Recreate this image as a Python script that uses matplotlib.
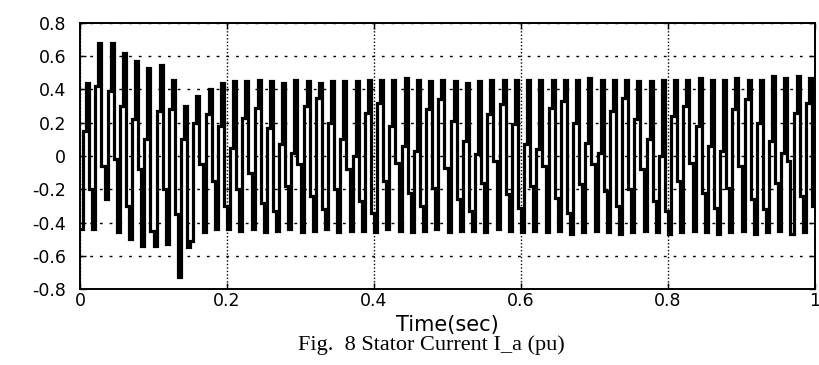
import matplotlib.pyplot as plt
import numpy as np

# stator current I_a (pu), one row of levels per 60 Hz cycle
# each cycle is drawn as 4 held samples: trough, rising level, peak, falling level
cycle_freq = 60
i_lo = [-0.44, -0.44, -0.26, -0.46, -0.50, -0.54, -0.54, -0.53, -0.73, -0.51, -0.46, -0.44, -0.44,
        -0.45, -0.44, -0.46, -0.45, -0.44, -0.46, -0.45, -0.44, -0.46, -0.45, -0.45, -0.46, -0.44,
        -0.45, -0.46, -0.45, -0.44, -0.46, -0.45, -0.45, -0.46, -0.44, -0.45, -0.46, -0.45,
        -0.46, -0.45, -0.47, -0.46, -0.45, -0.46, -0.47, -0.46, -0.45, -0.46, -0.47, -0.46,
        -0.45, -0.46, -0.47, -0.46, -0.45, -0.47, -0.46, -0.45, -0.47, -0.46]
i_up = [0.15, 0.42, 0.39, 0.30, 0.22, 0.10, 0.27, 0.28, 0.10, 0.20, 0.25, 0.18, 0.05,
        0.23, 0.29, 0.17, 0.07, 0.02, 0.30, 0.35, 0.20, 0.10, 0.00, 0.26, 0.32, 0.18,
        0.06, 0.03, 0.28, 0.34, 0.21, 0.09, 0.01, 0.25, 0.31, 0.19, 0.07, 0.04,
        0.29, 0.33, 0.20, 0.08, 0.02, 0.27, 0.35, 0.22, 0.10, 0.00, 0.24, 0.30,
        0.18, 0.06, 0.03, 0.28, 0.34, 0.20, 0.09, 0.02, 0.26, 0.32]
i_hi = [0.44, 0.68, 0.68, 0.62, 0.57, 0.53, 0.55, 0.46, 0.30, 0.36, 0.40, 0.44, 0.45,
        0.45, 0.46, 0.45, 0.44, 0.46, 0.45, 0.44, 0.45, 0.45, 0.45, 0.46, 0.46, 0.46,
        0.47, 0.46, 0.45, 0.46, 0.45, 0.44, 0.45, 0.46, 0.46, 0.46, 0.46, 0.46,
        0.46, 0.46, 0.46, 0.47, 0.46, 0.46, 0.46, 0.45, 0.45, 0.46, 0.46, 0.46,
        0.47, 0.46, 0.46, 0.47, 0.46, 0.46, 0.48, 0.47, 0.48, 0.47]
i_dn = [-0.20, -0.06, -0.02, -0.30, -0.08, -0.45, -0.20, -0.35, -0.55, -0.05, -0.15, -0.30, -0.20,
        -0.10, -0.28, -0.33, -0.18, -0.05, -0.24, -0.32, -0.20, -0.08, -0.27, -0.34, -0.15, -0.04,
        -0.22, -0.30, -0.19, -0.07, -0.26, -0.33, -0.16, -0.03, -0.23, -0.31, -0.18, -0.06,
        -0.25, -0.34, -0.17, -0.05, -0.21, -0.30, -0.20, -0.08, -0.27, -0.33, -0.15, -0.04,
        -0.22, -0.31, -0.19, -0.06, -0.26, -0.32, -0.16, -0.03, -0.24, -0.30]

x_ticks = [0, 0.2, 0.4, 0.6, 0.8, 1]
x_labels = ['0', '0.2', '0.4', '0.6', '0.8', '1']
y_ticks = [-0.8, -0.6, -0.4, -0.2, 0, 0.2, 0.4, 0.6, 0.8]
y_labels = ['-0.8', '-0.6', '-0.4', '-0.2', '0', '0.2', '0.4', '0.6', '0.8']

# stack the per-cycle levels into one held-sample series
current = np.column_stack([i_lo, i_up, i_hi, i_dn]).ravel()
current = np.append(current, current[-1])
time = np.arange(len(current)) / (4 * cycle_freq)

plt.rcParams['font.family'] = ['DejaVu Sans']

fig = plt.figure(figsize=(8.2, 3.65), dpi=100)
ax = fig.add_axes([0.0976, 0.2082, 0.8963, 0.7288])

ax.plot(time, current, drawstyle='steps-post', color='black', linewidth=2.3,
        solid_joinstyle='miter', zorder=3)

ax.set_xlim(0, 1)
ax.set_ylim(-0.8, 0.8)
ax.set_xticks(x_ticks)
ax.set_xticklabels(x_labels)
ax.set_yticks(y_ticks)
ax.set_yticklabels(y_labels)

# matlab style dotted grid, denser on the time axis
ax.xaxis.grid(True, color='black', linestyle=(0, (1, 1.5)), linewidth=1.0, zorder=1)
ax.yaxis.grid(True, color='black', linestyle=(0, (2, 5)), linewidth=1.0, zorder=1)
ax.set_axisbelow(True)

for sp in ax.spines.values():
    sp.set_linewidth(1.4)

ax.tick_params(direction='in', length=4, width=1, top=True, right=True, labelsize=12.5)
ax.tick_params(axis='y', pad=10)
ax.tick_params(axis='x', pad=2)

ax.set_xlabel('Time(sec)', fontsize=15, labelpad=4)
fig.text(0.526, 1 - 345 / 365, 'Fig.  8 Stator Current I_a (pu)', ha='center', va='center',
         fontsize=16, family='Liberation Serif')

fig.savefig('out.png', dpi=100, facecolor='white')
